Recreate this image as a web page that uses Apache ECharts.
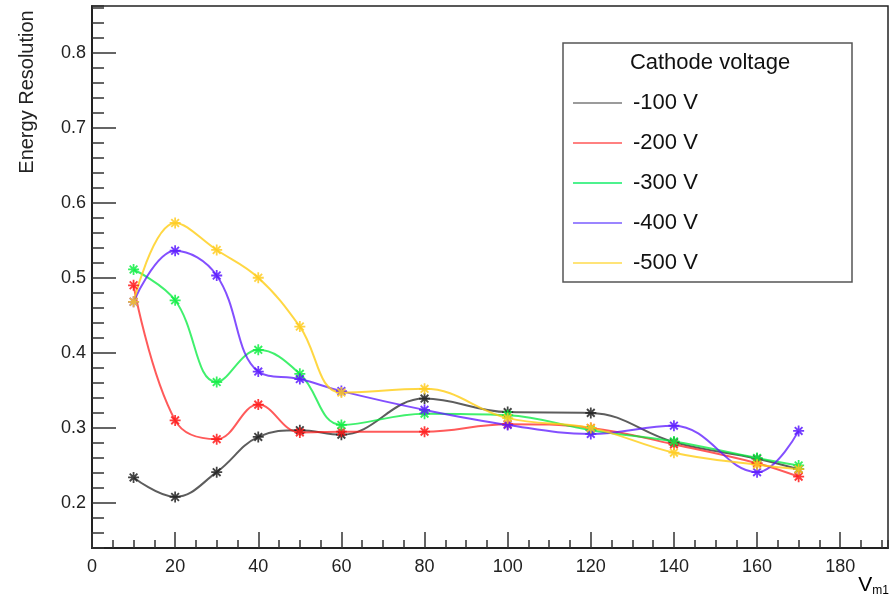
<!DOCTYPE html>
<html><head><meta charset="utf-8">
<script src="https://cdn.jsdelivr.net/npm/echarts@6/dist/echarts.min.js"></script>
<style>html,body{margin:0;padding:0;background:#fff}#c{width:893px;height:600px}</style>
</head><body><div id="c"></div>
<script>
const xValues = [10, 20, 30, 40, 50, 60, 80, 100, 120, 140, 160, 170];
const seriesNames = ['-100 V', '-200 V', '-300 V', '-400 V', '-500 V'];
const v100 = [0.234, 0.208, 0.241, 0.288, 0.297, 0.291, 0.339, 0.321, 0.320, 0.281, 0.259, 0.245];
const v200 = [0.490, 0.310, 0.285, 0.331, 0.294, 0.295, 0.295, 0.305, 0.300, 0.278, 0.253, 0.235];
const v300 = [0.511, 0.470, 0.361, 0.404, 0.372, 0.304, 0.319, 0.317, 0.297, 0.282, 0.260, 0.250];
const v400 = [0.468, 0.536, 0.503, 0.375, 0.365, 0.349, 0.324, 0.304, 0.292, 0.303, 0.241, 0.296];
const v500 = [0.468, 0.573, 0.537, 0.500, 0.435, 0.347, 0.352, 0.313, 0.300, 0.267, 0.251, 0.245];
const xMajorTicks = [0, 20, 40, 60, 80, 100, 120, 140, 160, 180];
const yMajorTicks = [0.2, 0.3, 0.4, 0.5, 0.6, 0.7, 0.8];

const allValues = [v100, v200, v300, v400, v500];
const lineColors = ['rgba(30,30,30,0.72)', 'rgba(255,20,20,0.7)', 'rgba(0,235,60,0.75)', 'rgba(90,20,255,0.75)', 'rgba(255,205,20,0.8)'];
const markColors = ['#222222', '#ff1a1a', '#11ee44', '#5a1aff', '#ffcc22'];
const legendColors = ['#8a8a8a', '#ff6b6b', '#2ef07a', '#8a70ff', '#ffdf60'];
const star = 'path://M-0.8,-5L0.8,-5L0.8,5L-0.8,5Z M-5,-0.8L5,-0.8L5,0.8L-5,0.8Z M-4.1,-2.9L-2.9,-4.1L4.1,2.9L2.9,4.1Z M2.9,-4.1L4.1,-2.9L-2.9,4.1L-4.1,2.9Z';

const font = '"Liberation Sans", Arial, Helvetica, sans-serif';
const chart = echarts.init(document.getElementById('c'), null, {renderer: 'canvas'});
const series = allValues.map((vals, i) => ({
  name: seriesNames[i],
  type: 'line',
  xAxisIndex: 0, yAxisIndex: 0,
  data: xValues.map((x, j) => [x, vals[j]]),
  smooth: 0.4,
  symbol: star,
  symbolSize: 11,
  showAllSymbol: true,
  lineStyle: {color: lineColors[i], width: 2},
  itemStyle: {color: markColors[i], opacity: 0.85},
  emphasis: {disabled: true},
  animation: false
}));

chart.setOption({
  animation: false,
  grid: {left: 92, right: 5, top: 6, bottom: 52, show: true, borderColor: '#222', borderWidth: 1.5, backgroundColor: 'transparent'},
  xAxis: [{
    type: 'value', min: 0, max: 191.5, position: 'bottom',
    axisLine: {show: true, lineStyle: {color: '#222', width: 2}},
    axisTick: {show: true, inside: true, length: 16, lineStyle: {color: '#333', width: 1.5}, customValues: xMajorTicks},
    axisLabel: {show: true, color: '#222', fontSize: 18, fontFamily: font, margin: 10, customValues: xMajorTicks},
    splitLine: {show: false}
  }, {
    type: 'value', min: 0, max: 191.5, interval: 5, position: 'bottom',
    axisLine: {show: false},
    axisTick: {show: true, inside: true, length: 8, lineStyle: {color: '#333', width: 1.5}},
    axisLabel: {show: false}, splitLine: {show: false}
  }],
  yAxis: [{
    type: 'value', min: 0.14, max: 0.862, position: 'left',
    axisLine: {show: true, lineStyle: {color: '#222', width: 2}},
    axisTick: {show: true, inside: true, length: 24, lineStyle: {color: '#333', width: 1.5}, customValues: yMajorTicks},
    axisLabel: {show: true, color: '#222', fontSize: 18, fontFamily: font, margin: 6, customValues: yMajorTicks, formatter: v => v.toFixed(1)},
    splitLine: {show: false}
  }, {
    type: 'value', min: 0.14, max: 0.862, interval: 0.02, position: 'left',
    axisLine: {show: false},
    axisTick: {show: true, inside: true, length: 12, lineStyle: {color: '#333', width: 1.5}},
    axisLabel: {show: false}, splitLine: {show: false}
  }],
  legend: {
    data: seriesNames.map((n, i) => ({name: n, itemStyle: {color: legendColors[i]}})),
    orient: 'vertical',
    left: 573, top: 91,
    padding: 0,
    icon: 'rect',
    itemWidth: 49, itemHeight: 2,
    itemGap: 16,
    textStyle: {fontSize: 22, fontFamily: font, color: '#111', lineHeight: 24, padding: [0, 0, 0, 6]},
    selectedMode: false
  },
  graphic: [
    {type: 'rect', shape: {x: 563, y: 43, width: 289, height: 239}, style: {fill: 'none', stroke: '#555', lineWidth: 1.5}, z: 10},
    {type: 'text', x: 710, y: 63, style: {text: 'Cathode voltage', font: '22px ' + font, fill: '#111', textAlign: 'center', textVerticalAlign: 'middle'}, z: 10},
    {type: 'text', x: 27, y: 92, rotation: Math.PI / 2, style: {text: 'Energy Resolution', font: '20px ' + font, fill: '#222', textAlign: 'center', textVerticalAlign: 'middle'}},
    {type: 'text', right: 4, top: 575, style: {text: '{a|V}{b|m1}', rich: {a: {fontSize: 21, fontFamily: font, color: '#222', verticalAlign: 'top'}, b: {fontSize: 12, fontFamily: font, color: '#222', padding: [10, 0, 0, 0]}}}}
  ],
  series: series
});
</script></body></html>
